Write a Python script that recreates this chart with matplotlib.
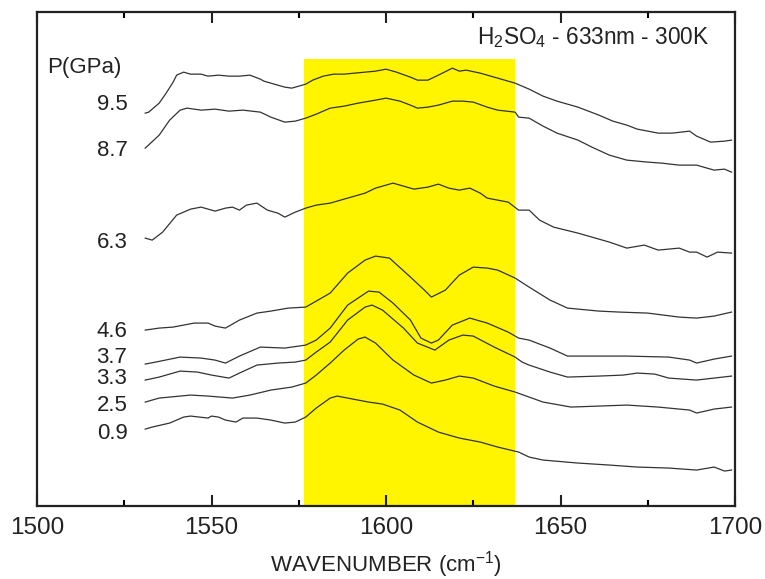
import numpy as np
import matplotlib
matplotlib.use('Agg')
import matplotlib.pyplot as plt
from matplotlib.ticker import MultipleLocator

plt.rcParams['font.family'] = ['Liberation Sans', 'DejaVu Sans']
plt.rcParams['mathtext.fontset'] = 'custom'
plt.rcParams['mathtext.rm'] = 'Liberation Sans'
plt.rcParams['mathtext.default'] = 'regular'

# Raman spectra of H2SO4, intensity in arbitrary units (already offset per pressure)
pressures = ['9.5', '8.7', '6.3', '4.6', '3.7', '3.3', '2.5', '0.9']
label_y = [402, 356, 264, 175, 149, 128, 101, 73]

w_95 = [1531, 1532, 1535, 1537, 1539, 1540, 1542, 1544, 1547, 1549, 1552, 1555, 1558, 1561, 1564, 1565,
        1568, 1571, 1573, 1575, 1577, 1579, 1582, 1585, 1588, 1591, 1594, 1597, 1600, 1603, 1607, 1609,
        1612, 1615, 1619, 1621, 1623, 1627, 1631, 1634, 1637, 1641, 1645, 1649, 1655, 1661, 1665, 1669,
        1672, 1678, 1682, 1687, 1689, 1693, 1697, 1699]
i_95 = [393, 394, 403, 413, 424, 431, 434, 432, 432, 430, 431, 430, 430, 431, 427, 425,
        422, 419, 418, 420, 422, 426, 430, 432, 432, 433, 434, 435, 437, 434, 429, 426,
        426, 431, 438, 435, 436, 433, 429, 426, 423, 417, 410, 405, 399, 391, 385, 381,
        377, 373, 373, 375, 370, 364, 365, 366]

w_87 = [1531, 1535, 1538, 1541, 1543, 1547, 1551, 1555, 1559, 1564, 1567, 1571, 1574, 1577, 1580, 1584,
        1588, 1592, 1597, 1600, 1604, 1607, 1609, 1612, 1615, 1619, 1622, 1625, 1629, 1632, 1637, 1638,
        1641, 1645, 1649, 1655, 1659, 1664, 1669, 1675, 1679, 1684, 1689, 1694, 1697, 1699]
i_87 = [358, 371, 386, 396, 398, 396, 397, 395, 396, 394, 389, 384, 385, 388, 392, 398,
        400, 403, 406, 408, 405, 401, 398, 399, 401, 405, 405, 404, 399, 396, 394, 389,
        388, 380, 373, 366, 359, 351, 346, 344, 343, 341, 341, 336, 337, 334]

w_63 = [1531, 1533, 1536, 1540, 1544, 1547, 1551, 1554, 1556, 1558, 1560, 1563, 1566, 1569, 1571, 1574,
        1577, 1580, 1584, 1589, 1594, 1597, 1602, 1605, 1608, 1612, 1615, 1618, 1621, 1624, 1627, 1629,
        1635, 1638, 1641, 1644, 1648, 1655, 1664, 1669, 1674, 1678, 1684, 1687, 1689, 1692, 1695, 1699]
i_63 = [268, 266, 274, 291, 297, 299, 295, 298, 299, 296, 301, 303, 296, 293, 289, 294,
        298, 301, 303, 308, 313, 318, 323, 320, 317, 319, 322, 318, 316, 318, 313, 308,
        304, 296, 296, 286, 279, 273, 264, 258, 261, 256, 258, 254, 254, 249, 254, 253]

w_46 = [1531, 1535, 1539, 1545, 1549, 1551, 1554, 1558, 1563, 1567, 1572, 1577, 1579, 1584, 1589, 1594,
        1597, 1601, 1607, 1611, 1613, 1617, 1621, 1625, 1629, 1632, 1637, 1641, 1647, 1652, 1661, 1667,
        1675, 1684, 1689, 1694, 1699]
i_46 = [176, 178, 179, 183, 183, 180, 178, 186, 193, 195, 198, 199, 203, 213, 233, 246,
        250, 248, 229, 216, 209, 216, 231, 239, 238, 236, 228, 219, 206, 198, 195, 194,
        193, 189, 188, 190, 194]

w_37 = [1531, 1534, 1541, 1547, 1551, 1554, 1558, 1564, 1571, 1577, 1580, 1584, 1589, 1595, 1598, 1602,
        1607, 1610, 1613, 1615, 1619, 1624, 1629, 1635, 1638, 1641, 1647, 1652, 1661, 1669, 1681, 1687,
        1689, 1694, 1699]
i_37 = [142, 144, 149, 148, 146, 143, 150, 159, 158, 161, 166, 178, 201, 215, 214, 203,
        186, 168, 163, 166, 181, 188, 183, 174, 168, 166, 158, 150, 150, 150, 149, 146,
        143, 147, 150]

w_33 = [1531, 1535, 1541, 1546, 1550, 1555, 1558, 1563, 1569, 1574, 1577, 1580, 1584, 1589, 1594, 1596,
        1599, 1605, 1609, 1614, 1618, 1622, 1625, 1631, 1637, 1639, 1641, 1647, 1652, 1661, 1668, 1672,
        1677, 1681, 1689, 1699]
i_33 = [126, 129, 135, 134, 131, 128, 133, 141, 143, 144, 146, 154, 164, 186, 199, 201,
        196, 178, 163, 156, 166, 171, 170, 159, 149, 144, 141, 134, 129, 130, 131, 133,
        132, 128, 126, 130]

w_25 = [1531, 1535, 1544, 1549, 1556, 1561, 1567, 1573, 1577, 1580, 1584, 1588, 1592, 1594, 1597, 1602,
        1608, 1613, 1617, 1621, 1625, 1631, 1637, 1641, 1645, 1653, 1661, 1669, 1678, 1687, 1689, 1694,
        1699]
i_25 = [104, 108, 111, 110, 108, 111, 116, 119, 123, 131, 143, 156, 167, 169, 163, 146,
        131, 123, 126, 130, 128, 120, 114, 109, 104, 99, 100, 101, 99, 96, 93, 97,
        99]

w_09 = [1531, 1533, 1538, 1542, 1544, 1549, 1550, 1552, 1554, 1557, 1559, 1563, 1567, 1571, 1574, 1577,
        1580, 1584, 1586, 1589, 1595, 1599, 1604, 1609, 1615, 1621, 1627, 1632, 1638, 1641, 1645, 1655,
        1664, 1672, 1681, 1689, 1694, 1697, 1699]
i_09 = [77, 79, 83, 89, 90, 88, 90, 89, 86, 84, 88, 88, 86, 83, 84, 89,
        98, 108, 110, 108, 104, 102, 96, 84, 74, 68, 64, 59, 54, 49, 46, 43,
        41, 39, 38, 36, 39, 35, 36]

spectra = [(w_95, i_95), (w_87, i_87), (w_63, i_63), (w_46, i_46),
           (w_37, i_37), (w_33, i_33), (w_25, i_25), (w_09, i_09)]

band_lo, band_hi = 1576.6, 1637.1

fig = plt.figure(figsize=(7.65, 5.79), dpi=100)
ax = fig.add_axes([0.0484, 0.126, 0.9124, 0.853])

ax.axvspan(band_lo, band_hi, ymin=0, ymax=447 / 494, color='#fff500', lw=0, zorder=0)

for (w, inten) in spectra:
    ax.plot(w, inten, color='#333333', lw=0.9, zorder=2)

for p, y in zip(pressures, label_y):
    ax.text(1525.9, y, p, ha='right', va='center', fontsize=16, color='#222222')
ax.text(1503, 439, 'P(GPa)', ha='left', va='center', fontsize=16, color='#222222')
ax.text(1626, 469, r'H$_2$SO$_4$ - 633nm - 300K', ha='left', va='center', fontsize=16.3, color='#222222')

ax.set_xlim(1500, 1700)
ax.set_ylim(0, 494)
ax.set_yticks([])
ax.xaxis.set_major_locator(MultipleLocator(50))
ax.xaxis.set_minor_locator(MultipleLocator(25))
ax.tick_params(axis='x', which='major', direction='in', top=True, length=8, width=1.5,
               labelsize=17.5, pad=8, colors='#222222')
ax.tick_params(axis='x', which='minor', direction='in', top=True, length=4.5, width=1.5)
for s in ax.spines.values():
    s.set_linewidth(1.6)
    s.set_color('#222222')
ax.set_xlabel('WAVENUMBER (cm$^{-1}$)', fontsize=16, labelpad=7, color='#222222')

fig.savefig('out.png', dpi=100)
